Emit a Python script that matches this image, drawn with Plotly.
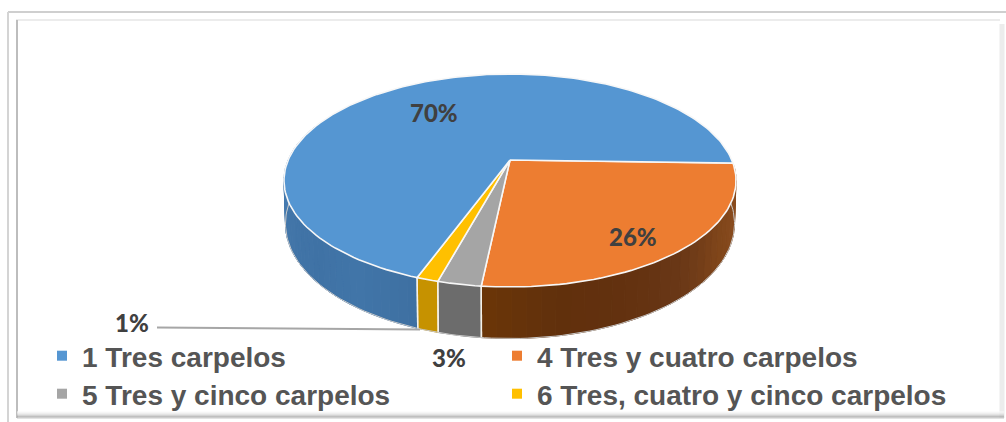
import math
import plotly.graph_objects as go

categories = ["1 Tres carpelos", "4 Tres y cuatro carpelos", "5 Tres y cinco carpelos", "6 Tres, cuatro y cinco carpelos"]
values = [69.9, 26.2, 2.6, 1.3]
top_colors = ["#5596d2", "#ed7d31", "#a5a5a5", "#ffc000"]
wall_stops = [
    ["#3e70a2", "#4175a8", "#3f72a5", "#4275a8", "#4479ad", "#4a80b8", "#4f86bf"],
    ["#8a4a1a", "#8a4c1e", "#7f451a", "#6a3817", "#63310f", "#61300c", "#6b3608"],
    ["#6c6c6c", "#6c6c6c"],
    ["#c69200", "#c69200"],
]
wall_bands = [40, 30, 1, 1]
draw_order = [1, 2, 3, 0]
start_angle = 91.7

CX, CY_APEX = 510, 160
A, B, K = 221.8, 102.55, 0.1925
W, H = 1006, 422


def top_point(theta):
    r = math.radians(theta)
    u, v = math.sin(r), math.cos(r)
    d = 1 + K * v
    return CX + A * u / d, CY_APEX - B * v / d


def bottom_point(theta):
    x, y = top_point(theta)
    return CX + (x - CX) * 224.5 / 226, 223 + (y - 180) * 115 / 106.5


def arc(fn, a, b):
    n = max(2, int(abs(b - a) / 1.5) + 1)
    return [fn(a + (b - a) * i / n) for i in range(n + 1)]


def shade(stops, t):
    pos = t * (len(stops) - 1)
    k = min(int(pos), len(stops) - 2)
    f = pos - k
    c0 = [int(stops[k][n:n + 2], 16) for n in (1, 3, 5)]
    c1 = [int(stops[k + 1][n:n + 2], 16) for n in (1, 3, 5)]
    return "#%02x%02x%02x" % tuple(round(p + (q - p) * f) for p, q in zip(c0, c1))


fig = go.Figure()

spans = {}
angle = start_angle
for i in draw_order:
    spans[i] = (angle, angle + values[i] * 3.6)
    angle += values[i] * 3.6

# side wall, shaded band by band
for i in draw_order:
    a, b = spans[i]
    if i == 0:  # only the front part of the blue slice shows
        b = min(b, 290)
    n = wall_bands[i]
    step = (b - a) / n
    for j in range(n):
        c = shade(wall_stops[i], (j + 0.5) / n)
        s0, s1 = a + j * step, a + (j + 1) * step
        pts = arc(top_point, s0, s1) + arc(bottom_point, s1, s0)
        fig.add_trace(go.Scatter(x=[p[0] for p in pts] + [pts[0][0]], y=[p[1] for p in pts] + [pts[0][1]],
                                 mode="lines", fill="toself", fillcolor=c, line=dict(color=c, width=1),
                                 hoverinfo="skip", showlegend=False))
for i in draw_order:
    for ang in spans[i]:
        if 100 < ang < 260:
            p, q = top_point(ang), bottom_point(ang)
            fig.add_trace(go.Scatter(x=[p[0], q[0]], y=[p[1], q[1]], mode="lines",
                                     line=dict(color="#f4f1ea", width=1.4), hoverinfo="skip", showlegend=False))

# thin pale rim beneath the wall
rim = arc(bottom_point, spans[1][0] - 8, 290)
fig.add_trace(go.Scatter(x=[p[0] for p in rim], y=[p[1] for p in rim], mode="lines",
                         line=dict(color="#c9c9c9", width=1), hoverinfo="skip", showlegend=False))

# top face
for i in draw_order:
    a, b = spans[i]
    pts = [(CX, CY_APEX)] + arc(top_point, a, b) + [(CX, CY_APEX)]
    fig.add_trace(go.Scatter(x=[p[0] for p in pts], y=[p[1] for p in pts], mode="lines", fill="toself",
                             fillcolor=top_colors[i], line=dict(color="#f7f7f7", width=1.6),
                             name=categories[i], hoverinfo="skip", showlegend=False))

# legend entries, one legend per cell so the rows keep their wide pitch
legend_cells = [(48, 356), (503, 356), (48, 394), (503, 394)]
layout_legends = {}
for i, (lx, ly) in enumerate(legend_cells):
    key = "legend" if i == 0 else f"legend{i + 1}"
    fig.add_trace(go.Scatter(x=[None], y=[None], mode="markers", name=categories[i],
                             marker=dict(symbol="square", size=10, color=top_colors[i]), legend=key))
    layout_legends[key] = dict(x=lx / W, y=1 - ly / H, xanchor="left", yanchor="middle", bgcolor="rgba(0,0,0,0)",
                               indentation=-6, font=dict(family="Liberation Sans", size=28, color="#555555",
                                                         weight=700))

labels = [f"{v:.0f}%" for v in values]
label_pos = [(434, 112), (633, 236), (449, 357), (132, 322)]
annotations = [
    dict(x=x, y=y, text=t, showarrow=False, xref="x", yref="y",
         font=dict(family="Lato", size=24, color="#404040", weight=900))
    for t, (x, y) in zip(labels, label_pos)
]

shapes = [
    dict(type="line", x0=157, y0=327.5, x1=420, y1=329.5, line=dict(color="#a6a6a6", width=2), layer="below"),
    dict(type="line", x0=8, y0=12, x1=1006, y1=12, line=dict(color="#cfcfcf", width=2), layer="below"),
    dict(type="line", x0=8, y0=12, x1=8, y1=422, line=dict(color="#d4d4d4", width=2), layer="below"),
    dict(type="line", x0=16, y0=20, x1=1000, y1=20, line=dict(color="#e6e6e6", width=1.5), layer="below"),
    dict(type="line", x0=17, y0=20, x1=17, y1=418, line=dict(color="#bdbdbd", width=2), layer="below"),
    dict(type="line", x0=1002, y0=24, x1=1002, y1=418, line=dict(color="#ececec", width=5), layer="below"),
]
for k, c in enumerate(["#f8f8f8", "#f0f0f0", "#e4e4e4", "#d4d4d4", "#bdbdbd", "#a0a0a0", "#c8c8c8"]):
    shapes.append(dict(type="line", x0=17, y0=412 + k, x1=1004, y1=412 + k, line=dict(color=c, width=1), layer="below"))

fig.update_layout(
    width=W, height=H, margin=dict(l=0, r=0, t=0, b=0),
    paper_bgcolor="white", plot_bgcolor="white",
    xaxis=dict(range=[0, W], visible=False, fixedrange=True),
    yaxis=dict(range=[H, 0], visible=False, fixedrange=True),
    shapes=shapes, annotations=annotations, **layout_legends,
)
fig.write_html("out.html", config={"displayModeBar": False},
               post_script="document.body.style.margin='0';document.documentElement.style.overflow='hidden';")
